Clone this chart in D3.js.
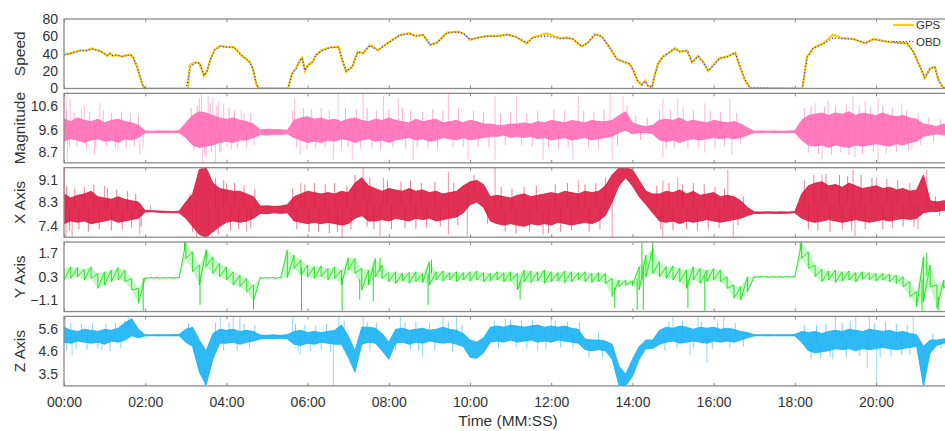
<!DOCTYPE html>
<html>
<head>
<meta charset="utf-8">
<script src="https://cdn.jsdelivr.net/npm/d3@7"></script>
<style>
  body { margin: 0; background: #fff; }
  svg { display: block; font-family: "Liberation Sans", Arial, sans-serif; }
  .tick text { fill: #333; font-size: 14px; }
  .tick line { stroke: #8a8a8a; }
</style>
</head>
<body>
<svg id="chart" width="945" height="431"></svg>
<script>
// speed (seconds, km/h)
const speedTime = [0,9,24,33,41,49,53,58,64,68,
  72,78,86,93,98,102,108,112,117,120,
  180,183,186,194,200,204,207,211,217,223,
  231,238,245,251,257,263,270,275,279,284,
  287,331,337,343,349,352,356,361,368,372,
  381,393,406,411,417,426,434,442,452,464,
  479,497,511,519,531,541,551,566,581,590,
  600,615,625,644,655,669,684,693,714,733,
  743,752,765,774,785,795,807,817,826,836,
  841,848,854,859,863,869,873,878,885,893,
  903,910,921,928,937,944,952,962,969,980,
  992,999,1006,1014,1091,1098,1107,1122,1136,1151,
  1166,1184,1196,1216,1231,1246,1255,1265,1272,1280,
  1287,1292,1299,1320];
const gpsSpeed = [39,40.5,44,43.5,46,44,43.5,41,37.5,40.5,
  37.5,38.5,36.5,38.5,39,36,25,14,2,0,
  0,0,27,30,29,21,14.5,19.5,35,45,
  49,48,47.5,48,42.5,37.5,33.5,30,23,6,
  0,0,17.5,23,33,35.5,20,27,31,38.5,
  44,47.5,48,33,19.5,25,42.5,40.5,50,44,
  52.8,61.7,63.6,60.5,61.7,50,52.8,64.3,65.5,63.6,
  56,59,60.5,60.5,62.4,59,52,59,63.5,57.9,
  58.5,57,48.2,52.8,62.8,59.7,46.4,33.7,31,28,
  21.5,8,4,9,3,1.6,15.7,29,36.7,40.6,
  46.4,42.5,43.6,30,37.5,31,20.3,29,35,36.7,
  41.3,25,10,0.5,0,36.7,46.4,52,62,57.9,
  57,52,57,54,52.8,52,42.5,25,12,23.4,
  25,10,1,0];
const obdSpeed = [39,40,43.5,43.5,45.5,44,43,41,38,40,
  38,38.5,37,38,38.5,36.5,25,14.5,2.5,0,
  0,8,24,29.5,29,21.5,15,19,34.5,44.5,
  48.5,48,47.5,47.5,42.5,37.5,33.5,30,23,6.5,
  0.5,0,17,23,32.5,35,21,27,31,38,
  43.5,47,47.5,33.5,20,25,42,40.5,49.5,44,
  52.5,61.5,63,60.5,61.5,50.5,52.5,64,65,63.5,
  56.5,59,60,60.5,62,59,52.5,58.5,60.5,57.5,
  58,57,48.5,52.5,62.5,59.5,46.5,34,31,28.5,
  21,8.5,4.5,8.5,3,1.5,15,28.5,36.5,40.5,
  46,42.5,43.5,30.5,37,31,20.5,28.5,34.5,36.5,
  41,25.5,10.5,0.5,0,35,46,51.5,57.9,57.5,
  57,52.5,56.5,54,52.5,52,42.5,25.5,12.5,23,
  24.5,10.5,1,0];

// accelerometer: low / high of the dense trace in each 10 s bin
const binTime = d3.range(0, 1321, 10);

const magLo = [
  9.15,9.25,9.2,9.1,9.2,9.25,9.15,9.2,9.1,9.25,9.2,9.3,
  9.5,9.5,9.51,9.5,9.5,9.5,
  9.3,9.0,8.9,8.95,9.0,9.1,9.15,9.1,9.2,9.2,9.3,
  9.42,9.4,9.43,9.42,9.45,
  9.3,9.2,9.1,9.15,9.1,9.2,9.15,9.25,9.2,9.1,
  9.2,9.25,9.15,9.2,9.1,9.2,9.25,9.3,9.2,9.25,
  9.15,9.2,9.3,9.25,9.2,9.3,9.2,9.25,9.3,9.35,
  9.35,9.4,9.3,9.35,9.3,9.35,9.25,9.3,9.2,9.25,
  9.3,9.2,9.25,9.3,9.2,9.25,9.3,9.35,9.5,9.6,
  9.45,9.5,9.5,9.45,
  9.2,9.15,9.2,9.1,9.2,9.25,9.2,9.25,9.3,9.25,9.3,9.25,9.3,9.4,
  9.5,9.5,9.51,9.5,9.51,9.5,9.5,
  9.2,9.0,8.95,9.0,8.9,9.0,8.95,8.9,9.0,8.95,9.0,9.05,9.0,8.95,9.05,9.0,9.1,9.15,
  9.35,9.4,9.45,9.4,9.45,9.4];
const magHi = [
  10.05,9.95,10.1,10.0,9.95,10.05,9.9,10.0,10.05,9.95,9.9,9.8,
  9.57,9.56,9.57,9.57,9.56,9.58,
  9.9,10.2,10.35,10.3,10.2,10.1,10.05,10.1,10.0,9.95,9.85,
  9.62,9.64,9.63,9.62,9.6,
  10.0,10.1,10.15,10.05,10.1,10.0,10.05,9.95,10.05,10.1,
  10.0,9.95,10.05,10.0,10.1,10.0,9.95,9.9,10.05,9.95,
  10.0,10.05,9.9,9.95,10.0,9.9,10.0,9.95,9.85,9.85,
  9.8,9.8,9.85,9.85,9.9,9.85,9.95,9.9,10.0,9.95,
  9.9,10.0,9.95,9.9,10.0,9.95,9.95,10.0,10.2,10.35,
  9.9,9.8,9.75,9.8,
  10.0,10.05,10.0,10.1,9.95,10.0,9.95,9.9,10.0,9.95,9.9,9.95,9.85,9.7,
  9.56,9.57,9.56,9.57,9.56,9.57,9.58,
  10.0,10.2,10.25,10.3,10.2,10.3,10.25,10.35,10.2,10.3,10.25,10.2,10.3,10.2,10.15,10.2,10.1,10.05,
  9.85,9.8,9.75,9.85,9.75,9.8];
// tall single excursions
const magSpikes = [[3,11.0],[5,8.3],[9,10.9],[30,10.6],[45,8.6],[53,10.7],[80,8.8],[112,8.6],[117,8.9],
  [200,10.9],[203,11.1],[205,8.25],[210,8.5],[213,11.0],[220,10.9],[224,8.3],[228,10.8],[232,8.7],
  [236,10.7],[241,8.9],[262,10.4],[341,10.9],[349,8.6],[398,8.4],[405,11.1],[426,8.4],[442,11.1],
  [472,11.0],[494,10.9],[516,8.4],[568,11.1],[597,8.4],[637,11.0],[637,8.4],[669,11.0],[708,8.4],
  [752,8.4],[760,11.0],[807,11.1],[810,8.4],[826,11.0],[885,10.9],[885,8.5],[907,10.9],[947,10.7],
  [947,8.7],[984,10.9],[987,8.6],[1110,10.7],[1120,8.4],[1129,10.8],[1166,11.0],[1169,8.5],
  [1184,10.8],[1203,10.9],[1203,8.3],[1238,10.7],[1253,8.8]];
// shorter fringe excursions around the dense trace
const magFuzz = [[4,10.4],[8,8.9],[15,10.3],[19,8.95],[26,10.45],[33,8.85],[38,10.35],[47,8.9],[58,10.4],
  [63,8.95],[70,10.3],[76,8.85],[85,10.35],[92,8.9],[98,10.3],[104,8.95],[110,10.2],
  [188,10.5],[192,8.8],[197,10.6],[208,8.6],[216,10.7],[218,8.7],[226,10.6],[230,8.7],[244,10.5],
  [247,8.8],[252,10.4],[256,8.85],[266,10.3],[270,8.9],[276,10.3],[281,9.0],
  [338,10.4],[344,8.9],[354,10.5],[359,8.8],[366,10.45],[372,8.85],[380,10.5],[386,8.9],[392,10.4],
  [410,8.85],[416,10.5],[420,8.9],[432,10.45],[438,8.85],[448,10.5],[455,8.9],[462,10.4],[468,8.8],
  [480,10.45],[486,8.9],[500,10.5],[505,8.85],[512,10.4],[522,8.9],[530,10.35],[538,8.9],[545,10.45],
  [552,8.85],[560,10.4],[575,8.9],[583,10.5],[590,8.9],[605,10.4],[612,8.95],[620,10.35],[628,8.9],
  [645,10.3],[652,9.0],[660,10.35],[676,9.0],[684,10.3],[692,8.95],[700,10.4],[716,8.9],[724,10.45],
  [731,8.85],[740,10.4],[745,8.9],[768,10.4],[775,8.9],[783,10.35],[790,8.85],[798,10.45],[818,8.95],
  [832,10.6],[845,10.2],[852,9.2],[862,10.1],[880,10.4],[890,8.85],[896,10.45],[902,8.9],[915,10.5],
  [922,8.85],[930,10.4],[938,8.9],[955,10.4],[962,8.9],[970,10.35],[976,8.95],[994,10.3],[1000,9.05],
  [1094,10.5],[1100,8.7],[1104,10.6],[1115,8.65],[1124,10.55],[1134,8.6],[1140,10.6],[1148,8.7],
  [1156,10.65],[1160,8.6],[1175,10.6],[1180,8.65],[1192,10.55],[1196,8.7],[1210,10.6],[1215,8.65],
  [1224,10.5],[1230,8.7],[1245,10.4],[1248,8.8],[1262,10.3],[1266,9.0],[1278,10.1],[1285,9.15],
  [1295,10.05],[1305,9.2]];

const xAxLo = [
  7.5,7.6,7.55,7.6,7.5,7.55,7.6,7.65,7.55,7.6,7.65,7.7,
  7.93,7.94,7.92,7.91,7.9,7.9,
  7.7,7.4,7.1,7.0,7.2,7.4,7.55,7.6,7.55,7.6,7.7,
  7.88,7.87,7.9,7.88,7.9,
  7.6,7.55,7.5,7.55,
  7.5,7.55,7.5,7.45,7.5,
  7.7,7.8,7.6,
  7.6,7.65,7.6,7.7,7.65,7.6,7.7,7.65,7.7,7.6,7.65,7.7,7.75,
  7.9,8.2,8.3,8.1,
  7.6,7.5,7.45,7.5,7.45,7.4,7.5,7.45,7.5,7.45,7.55,7.5,7.45,7.5,7.55,7.5,7.6,
  7.8,8.3,8.9,9.2,
  8.9,8.5,8.2,7.9,
  7.6,7.55,7.6,7.5,7.6,7.55,7.6,7.65,7.6,7.55,7.6,7.65,7.7,7.8,
  7.88,7.88,7.89,7.88,7.88,7.89,7.9,
  7.7,7.6,7.55,7.6,7.65,7.6,7.55,7.6,7.65,7.6,7.55,7.6,7.65,7.6,7.65,7.7,7.65,7.7,
  7.9,7.95,7.95,8.0,7.95,8.0];
const xAxHi = [
  8.6,8.45,8.55,8.6,8.7,8.5,8.45,8.4,8.5,8.4,8.35,8.3,
  7.99,7.98,7.97,7.96,7.95,7.96,
  8.3,8.6,9.5,9.57,9.0,8.8,8.75,8.7,8.7,8.6,8.5,
  8.15,8.16,8.14,8.15,8.2,
  8.5,8.6,8.7,8.65,
  8.6,8.65,8.6,8.7,8.65,
  9.0,9.2,8.9,
  8.8,8.7,8.8,8.75,8.7,8.8,8.7,8.75,8.65,8.7,8.6,8.65,8.7,
  8.9,9.05,9.1,8.95,
  8.5,8.55,8.5,8.45,8.55,8.6,8.5,8.55,8.6,8.65,8.6,8.7,8.65,8.6,8.7,8.65,8.7,
  8.9,9.3,9.57,9.57,
  9.5,9.1,8.7,8.6,
  8.6,8.7,8.65,8.75,8.6,8.7,8.55,8.6,8.65,8.5,8.55,8.5,8.35,8.1,
  7.94,7.93,7.94,7.93,7.94,7.93,7.95,
  8.6,8.9,9.0,9.05,8.9,8.95,8.85,9.0,8.9,8.8,8.85,8.9,8.8,8.85,8.75,8.8,8.7,8.75,
  9.3,8.35,8.3,8.35,8.3,8.3];
const xAxSpikes = [[1,9.55],[3,7.0],[12,7.0],[60,8.9],[112,7.1],[128,8.2],[196,7.0],[213,7.0],[240,9.0],
  [270,7.2],[350,9.0],[411,7.0],[442,9.57],[467,7.05],[472,9.2],[568,9.4],[568,7.1],[596,7.05],
  [637,9.57],[708,7.1],[760,9.1],[810,7.0],[885,9.1],[885,7.0],[907,9.2],[981,9.5],[989,7.0],
  [1120,9.3],[1166,9.5],[1169,7.05],[1201,9.2],[1262,7.3],[1275,9.5]];
const xAxFuzz = [[4,8.9],[8,7.25],[16,8.8],[22,7.3],[30,8.85],[36,7.2],[44,8.95],[52,7.3],[64,8.8],
  [70,7.25],[78,8.75],[86,7.3],[94,8.7],[100,7.35],[106,8.6],[114,7.4],
  [186,8.6],[190,7.2],[224,9.2],[228,7.1],[236,9.1],[246,7.25],[252,9.0],[258,7.3],[266,8.9],
  [276,7.35],[282,8.8],
  [338,8.8],[344,7.3],[356,8.95],[362,7.2],[370,9.0],[376,7.2],[386,8.95],[392,7.15],[400,9.0],
  [404,7.2],[418,8.9],[424,7.3],[430,9.3],[448,7.4],[452,9.2],[458,7.3],[478,9.1],[484,7.3],
  [498,9.05],[504,7.35],[512,9.1],[520,7.3],[528,9.0],[536,7.35],[548,9.05],[556,7.4],[576,9.0],
  [582,7.45],[606,9.3],[626,7.5],[646,8.85],[652,7.2],[662,8.8],[668,7.15],[680,8.85],[688,7.2],
  [698,8.9],[716,7.15],[726,8.95],[734,7.2],[744,9.0],[750,7.25],[770,8.95],[776,7.2],[786,9.0],
  [792,7.3],[800,9.2],
  [876,8.9],[882,7.3],[894,9.0],[900,7.25],[914,8.95],[920,7.3],[930,9.0],[936,7.25],[946,8.95],
  [952,7.3],[962,8.85],[968,7.35],[976,8.8],[996,7.45],[1004,8.5],
  [1094,9.1],[1100,7.3],[1108,9.3],[1114,7.25],[1126,9.35],[1132,7.2],[1146,9.3],[1150,7.3],
  [1158,9.25],[1164,7.25],[1178,9.3],[1184,7.3],[1194,9.2],[1210,7.3],[1216,9.15],[1224,7.35],
  [1232,9.1],[1240,7.4],[1250,9.0],[1256,7.4],[1288,8.5],[1294,7.8],[1306,8.5]];

const yAxLo = [
  0.1,0.2,0.3,0.1,0.2,-0.4,-0.2,0.0,0.1,0.0,-0.5,-1.3,
  0.2,0.21,0.2,0.21,0.2,0.21,
  1.4,0.6,-0.2,0.9,0.5,0.3,0.1,-0.2,-0.3,-0.6,-1.2,
  0.2,0.21,0.2,0.21,0.25,
  0.8,0.4,0.3,0.2,0.3,0.1,0.2,-0.2,0.7,0.5,-0.5,-0.2,0.3,0.2,
  0.0,-0.1,0.05,-0.1,0.0,-0.05,
  -0.2,
  0.1,0.05,0.1,0.0,0.1,0.05,0.1,0.0,0.05,0.1,0.0,0.05,
  -0.5,
  0.0,-0.05,0.05,-0.1,0.0,0.05,-0.05,0.0,0.1,0.0,-0.05,0.0,-0.1,
  -0.9,-0.3,-0.2,-0.25,-0.5,0.3,0.5,
  0.3,0.2,0.1,0.0,-0.4,0.1,-0.1,0.0,0.1,0.0,-0.4,-1.0,-1.1,-0.6,
  0.26,0.27,0.26,0.27,0.26,0.27,0.26,
  1.4,0.8,0.3,
  0.0,0.1,-0.05,0.05,0.1,0.0,0.15,0.1,0.05,0.1,0.0,-0.1,-0.3,
  -0.9,-1.5,-1.2,-0.3,-1.6,-0.4,-0.3,-0.3];
const yAxHi = [
  0.8,0.9,0.85,0.75,0.9,0.5,0.6,0.7,0.85,0.7,0.2,-0.4,
  0.26,0.25,0.26,0.25,0.26,0.26,
  2.38,1.8,1.0,1.9,1.5,1.1,0.9,0.6,0.4,0.2,-0.2,
  0.26,0.25,0.26,0.25,1.9,
  1.6,1.3,1.0,0.9,0.95,0.8,0.9,0.7,1.45,1.4,0.8,0.7,1.4,1.0,
  0.55,0.6,0.5,0.55,0.6,0.5,
  1.2,
  0.6,0.65,0.55,0.6,0.55,0.6,0.65,0.55,0.5,0.6,0.55,0.6,
  0.5,
  0.7,0.65,0.6,0.7,0.6,0.55,0.65,0.6,0.55,0.6,0.5,0.55,0.5,
  0.2,0.1,0.1,0.05,0.9,1.6,2.0,
  1.2,0.9,0.95,0.8,0.7,0.9,0.8,0.7,0.8,0.7,0.3,-0.2,-0.3,0.3,
  0.31,0.32,0.31,0.32,0.31,0.32,0.31,
  2.38,1.8,1.0,
  0.75,0.65,0.7,0.6,0.65,0.55,0.6,0.55,0.5,0.5,0.45,0.4,0.3,
  0.0,-0.6,1.5,1.0,-0.2,0.1,0.2,0.1];
const yAxSpikes = [[117,-1.75],[178,2.38],[201,-1.4],[211,1.94],[280,-1.7],[351,-1.75],[411,-1.75],
  [437,-1.08],[457,-1.18],[467,1.44],[538,-1.4],[543,1.33],[674,-1.08],[814,-1.59],[847,-1.7],
  [854,2.38],[856,-1.7],[870,2.38],[922,-1.6],[947,-1.75],[1088,2.38],[1268,-1.75],[1275,1.74],
  [1292,-1.75]];
const yAxFuzz = [];

const zAxLo = [
  5.0,4.95,5.05,5.0,4.95,5.0,4.9,5.05,5.0,5.1,
  5.3,5.2,
  5.29,5.3,5.29,5.3,5.29,5.3,
  5.0,4.8,3.6,3.0,4.2,4.95,
  4.95,5.0,4.9,5.0,5.05,
  5.15,5.17,5.16,5.18,5.15,
  4.9,4.85,4.95,4.9,5.0,4.95,4.9,
  4.9,4.3,3.6,4.9,5.0,4.95,4.6,4.2,
  4.95,5.0,4.9,5.0,4.95,5.05,5.0,4.95,5.0,4.9,4.8,
  4.3,4.25,4.5,
  5.0,5.05,5.0,5.1,5.0,5.05,5.1,5.0,5.05,5.0,5.1,5.05,5.0,4.95,
  4.65,4.6,4.65,4.6,
  4.2,3.0,2.97,3.4,4.2,4.7,4.7,
  4.9,5.0,5.05,4.95,5.0,5.05,5.0,4.95,5.05,5.0,5.05,5.0,5.1,
  5.2,
  5.29,5.3,5.29,5.3,5.29,5.3,5.29,
  5.0,4.6,4.5,4.55,4.6,4.7,4.65,4.7,4.6,4.7,4.65,4.7,4.75,4.7,4.65,4.7,4.75,4.8,
  2.97,4.5,4.85,
  4.95,5.0,4.95];
const zAxHi = [
  5.7,5.55,5.5,5.6,5.55,5.5,5.6,5.55,5.65,5.9,
  6.1,5.6,
  5.35,5.34,5.35,5.34,5.35,5.36,
  5.6,5.7,5.1,4.6,5.4,5.6,
  5.55,5.6,5.5,5.55,5.5,
  5.33,5.32,5.34,5.32,5.35,
  5.5,5.55,5.45,5.5,5.45,5.5,5.55,
  5.8,5.3,4.6,5.7,5.7,5.65,5.4,5.0,
  5.6,5.65,5.55,5.6,5.65,5.55,5.6,5.7,5.6,5.55,5.4,
  5.1,5.0,5.2,
  5.7,5.75,5.7,5.8,5.75,5.7,5.75,5.8,5.7,5.75,5.7,5.75,5.65,5.6,
  5.15,5.1,5.1,5.05,
  4.9,3.9,3.5,4.2,4.8,5.1,5.1,
  5.55,5.7,5.65,5.75,5.7,5.6,5.7,5.65,5.7,5.6,5.65,5.6,5.5,
  5.45,
  5.35,5.34,5.35,5.34,5.35,5.34,5.36,
  5.5,5.45,5.5,5.4,5.5,5.55,5.5,5.6,5.55,5.5,5.6,5.55,5.5,5.55,5.45,5.5,5.4,5.35,
  4.8,5.1,5.1,
  5.15,5.2,5.15];
const zAxSpikes = [[2,6.2],[12,4.39],[56,4.6],[95,6.2],[208,2.97],[231,6.2],[250,6.2],[260,6.2],
  [338,6.2],[349,4.4],[398,2.97],[406,6.2],[442,6.2],[497,6.2],[530,4.3],[560,6.2],[580,6.2],
  [652,6.1],[700,4.6],[720,6.2],[900,6.2],[925,4.39],[937,6.2],[950,4.04],[975,6.2],[1136,4.2],
  [1140,6.2],[1170,6.2],[1187,3.77],[1190,6.2],[1201,2.97],[1255,6.2],[1272,2.97]];
const zAxFuzz = [[4,4.6],[10,5.9],[18,4.7],[26,5.85],[34,4.65],[42,5.9],[50,4.7],[62,5.85],[68,4.6],
  [76,5.9],[84,4.7],[90,6.0],
  [184,5.9],[192,4.5],[224,5.9],[236,4.6],[244,5.9],[256,4.6],[266,5.85],[274,4.7],[282,5.8],
  [342,5.85],[346,4.6],[356,5.8],[364,4.6],[372,5.8],[380,4.65],[388,5.85],[394,4.55],[414,6.0],
  [448,5.95],[452,4.6],[462,5.9],[490,4.6],[504,5.9],[512,4.65],[520,5.95],[524,4.6],[540,5.9],
  [548,4.6],[568,5.95],[574,4.55],[588,5.8],[636,6.0],[642,4.7],[660,6.05],[668,4.75],[676,6.0],
  [684,4.7],[692,6.05],[712,4.7],[726,6.0],[734,4.75],[744,5.95],[752,4.7],[762,5.9],[776,4.3],
  [790,5.5],[796,4.3],
  [878,5.5],[888,4.6],[894,5.95],[906,4.7],[914,6.0],[930,4.7],[942,5.95],[958,4.7],[966,5.9],
  [984,4.75],[992,5.9],[1004,4.8],
  [1094,5.8],[1104,4.2],[1112,5.8],[1118,4.25],[1126,5.85],[1132,4.3],[1150,5.9],[1156,4.3],
  [1162,6.0],[1176,4.35],[1198,5.9],[1206,4.3],[1214,5.95],[1222,4.35],[1230,5.85],[1238,4.4],
  [1246,5.8],[1250,4.4],[1284,5.4],[1296,4.7],[1310,5.4]];

// ticks
const timeTicks = [0,120,240,360,480,600,720,840,960,1080,1200];
const speedTicks = [0,20,40,60,80];
const magTicks = [8.7,9.6,10.6];
const xAxTicks = [7.4,8.3,9.1];
const yAxTicks = [-1.1,0.3,1.7];
const zAxTicks = [3.5,4.6,5.6];

const svg = d3.select("#chart");
const left = 64, secPx = 0.6767;
const top0 = 19, step = 74.35, panelH = 69.5;
const tEnd = 1340;
const x = d3.scaleLinear().domain([0, tEnd]).range([left, left + tEnd * secPx]);
const plotW = x(tEnd) - left;
const fmtTime = t => d3.format("02d")(Math.floor(t / 60)) + ":" + d3.format("02d")(t % 60);

const panels = [
  { name: "Speed", domain: [0, 80], ticks: speedTicks, fmt: d3.format("d") },
  { name: "Magnitude", domain: [8.27, 11.1], ticks: magTicks, fmt: d3.format(".1f"),
    lo: magLo, hi: magHi, spikes: magSpikes, fuzz: magFuzz, color: "#ff69b4" },
  { name: "X Axis", domain: [7.0, 9.57], ticks: xAxTicks, fmt: d3.format(".1f"),
    lo: xAxLo, hi: xAxHi, spikes: xAxSpikes, fuzz: xAxFuzz, color: "#dc143c" },
  { name: "Y Axis", domain: [-1.8, 2.39], ticks: yAxTicks, fmt: d3.format(".1f"),
    lo: yAxLo, hi: yAxHi, spikes: yAxSpikes, fuzz: yAxFuzz, color: "#1ee01e", thin: true },
  { name: "Z Axis", domain: [2.96, 6.2], ticks: zAxTicks, fmt: d3.format(".1f"),
    lo: zAxLo, hi: zAxHi, spikes: zAxSpikes, fuzz: zAxFuzz, color: "#12b0f5" }
];

panels.forEach(function (p, i) {
  const top = top0 + i * step;
  const y = d3.scaleLinear().domain(p.domain).range([top + panelH, top]);
  const g = svg.append("g");

  svg.append("clipPath").attr("id", "clip" + i)
    .append("rect").attr("x", left).attr("y", top).attr("width", plotW).attr("height", panelH);
  const plot = g.append("g").attr("clip-path", "url(#clip" + i + ")");

  if (i === 0) {
    const gps = speedTime.map((t, k) => [t, gpsSpeed[k]]);
    const obd = speedTime.map((t, k) => [t, obdSpeed[k]]);
    const line = d3.line().x(d => x(d[0])).y(d => y(d[1]));
    plot.append("path").datum(gps).attr("d", line)
      .attr("fill", "none").attr("stroke", "#ffcc00").attr("stroke-width", 2.2);
    plot.append("path").datum(obd).attr("d", line)
      .attr("fill", "none").attr("stroke", "#3a3aff").attr("stroke-width", 1.2)
      .attr("stroke-dasharray", "1.2,2");
  } else {
    const bins = binTime.map((t, k) => ({ t: t, lo: p.lo[k], hi: p.hi[k] }))
      .filter(d => d.lo != null && d.hi != null);
    const mid = t => {
      const b = bins[Math.min(bins.length - 1, Math.round(t / 10))];
      return (b.lo + b.hi) / 2;
    };
    const strokes = function (data, op, w) {
      plot.append("g").selectAll("line").data(data).enter().append("line")
        .attr("x1", d => x(d[0])).attr("x2", d => x(d[0]))
        .attr("y1", d => y(mid(d[0]))).attr("y2", d => y(d[1]))
        .attr("stroke", p.color).attr("stroke-width", w).attr("opacity", op);
    };
    strokes(p.fuzz, 0.55, 1);
    strokes(p.spikes, p.thin ? 1 : 0.45, 1);
    const zig = bins.flatMap(d => [[d.t, d.hi], [d.t, d.lo]]);
    if (p.thin) {
      plot.append("path").datum(bins)
        .attr("d", d3.area().x(d => x(d.t)).y0(d => y(d.lo)).y1(d => y(d.hi)))
        .attr("fill", p.color).attr("fill-opacity", 0.25);
      plot.append("path").datum(zig)
        .attr("d", d3.line().x(d => x(d[0])).y(d => y(d[1])))
        .attr("fill", "none").attr("stroke", p.color).attr("stroke-width", 0.9);
    } else {
      const area = d3.area().x(d => x(d.t)).y0(d => y(d.lo)).y1(d => y(d.hi));
      plot.append("path").datum(bins).attr("d", area)
        .attr("fill", p.color).attr("fill-opacity", 0.88)
        .attr("stroke", p.color).attr("stroke-width", 0.8);
    }
  }

  g.append("rect").attr("x", left).attr("y", top).attr("width", plotW).attr("height", panelH)
    .attr("fill", "none").attr("stroke", "#8a8a8a").attr("stroke-width", 1.3);

  const last = i === panels.length - 1;
  g.append("g").attr("transform", "translate(0," + (top + panelH) + ")")
    .call(d3.axisBottom(x).tickValues(timeTicks).tickSize(-3).tickPadding(11.5)
      .tickFormat(last ? fmtTime : ""))
    .call(a => a.select(".domain").remove());
  g.append("g").attr("transform", "translate(0," + top + ")")
    .call(d3.axisTop(x).tickValues(timeTicks).tickSize(-3).tickFormat(""))
    .call(a => a.select(".domain").remove());
  g.append("g").attr("transform", "translate(" + left + ",0)")
    .call(d3.axisLeft(y).tickValues(p.ticks).tickSize(0).tickPadding(6).tickFormat(p.fmt))
    .call(a => a.select(".domain").remove());

  g.append("text")
    .attr("transform", "translate(25," + (top + panelH / 2) + ") rotate(-90)")
    .attr("text-anchor", "middle").attr("font-size", 15.5).attr("fill", "#333")
    .text(p.name);
});

// legend (kept just inside the window so its labels are not cut)
const legend = svg.append("g");
const legendItems = [
  { name: "GPS", color: "#ffcc00", width: 2.2, dash: null, y: 25 },
  { name: "OBD", color: "#3a3aff", width: 1.2, dash: "1.2,2", y: 41.5 }
];
legendItems.forEach(function (d) {
  legend.append("line").attr("x1", 893).attr("x2", 914).attr("y1", d.y).attr("y2", d.y)
    .attr("stroke", d.color).attr("stroke-width", d.width).attr("stroke-dasharray", d.dash);
  legend.append("text").attr("x", 916).attr("y", d.y).attr("dy", "0.35em")
    .attr("font-size", 11.5).attr("fill", "#333").text(d.name);
});

svg.append("text").attr("x", 508).attr("y", 426).attr("text-anchor", "middle")
  .attr("font-size", 15.5).attr("fill", "#333").text("Time (MM:SS)");
</script>
</body>
</html>
